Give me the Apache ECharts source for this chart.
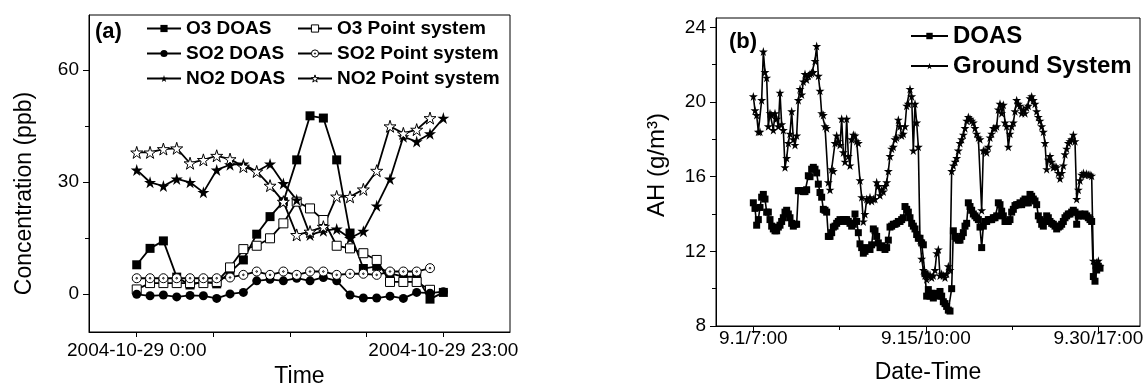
<!DOCTYPE html>
<html>
<head>
<meta charset="utf-8">
<script src="https://cdn.jsdelivr.net/npm/echarts@6/dist/echarts.min.js"></script>
<style>
  html, body { margin: 0; padding: 0; background: #fff; }
  #main { width: 1147px; height: 385px; }
</style>
</head>
<body>
<div id="main"></div>
<script>
// (a) hourly concentrations on 2004-10-29, ppb
const hours = [0, 1, 2, 3, 4, 5, 6, 7, 8, 9, 10, 11, 12, 13, 14, 15, 16, 17, 18, 19, 20, 21, 22, 23];
const o3Doas = [7.8, 12.2, 14.2, 4.5, 2.4, 3.3, 2.7, 5.8, 9.1, 16.0, 20.7, 24.7, 35.9, 47.7, 47.1, 35.9, 16.3, 6.8, 7.4, 5.5, 4.6, 4.6, -1.4, 0.4];
const o3Point = [1.2, 2.9, 2.9, 2.9, 2.9, 2.9, 3.2, 7.1, 12.0, 12.9, 14.9, 18.9, 24.7, 22.9, 19.8, 12.9, 12.2, 10.9, 9.1, 3.2, 3.2, 3.2, 1.1];
const so2Doas = [-0.1, -0.5, -0.3, -0.8, -0.4, -0.5, -1.2, 0.0, 0.4, 3.5, 3.9, 3.5, 4.2, 3.5, 4.4, 3.5, -0.3, -1.1, -1.1, -0.6, -1.2, 0.4, 0.2, 0.6];
const so2Point = [4.2, 4.2, 4.2, 4.2, 4.2, 4.2, 4.2, 4.4, 5.1, 6.0, 5.1, 6.0, 5.1, 6.0, 6.0, 5.1, 5.4, 5.4, 5.1, 6.0, 6.0, 6.0, 6.9];
const no2Doas = [33.2, 29.9, 28.9, 30.8, 29.9, 27.2, 33.2, 34.6, 34.8, 32.8, 34.8, 29.6, 25.2, 15.8, 16.9, 17.4, 14.9, 16.8, 23.6, 30.8, 42.1, 40.8, 42.9, 47.1];
const no2Point = [37.9, 37.9, 38.8, 39.0, 35.0, 35.9, 37.0, 36.1, 34.1, 32.8, 29.0, 24.7, 15.8, 16.7, 18.0, 26.1, 26.0, 28.0, 33.0, 44.9, 43.0, 44.0, 47.1];
const concTicks = [0, 30, 60];
const concMinorTicks = [15, 45];
const hourTicks = [0, 5.75, 11.5, 17.25, 23];
const hourLabelValues = [0, 23];
const hourLabels = ['2004-10-29 0:00', '2004-10-29 23:00'];

// (b) absolute humidity along the record (sample index)
const ahDoas = [
  14.6, 14.3, 13.4, 13.7, 14.35, 14.9, 15.05, 14.8, 14.1, 14.1,
  13.7, 13.35, 13.2, 13.1, 13.1, 13.3, 13.4, 13.6, 13.8, 14.1,
  14.2, 14.0, 13.8, 13.5, 13.35, 13.45, 13.45, 15.25, 15.25, 15.25,
  15.2, 15.2, 15.3, 16.05, 16.0, 16.4, 16.5, 16.4, 16.2, 15.6,
  15.15, 14.9, 14.25, 14.2, 14.1, 12.8, 12.8, 13.0, 13.3, 13.35,
  13.5, 13.6, 13.7, 13.6, 13.7, 13.7, 13.7, 13.6, 13.5, 13.35,
  13.45, 14.0, 13.6, 13.0, 12.4, 12.2, 11.9, 12.0, 12.15, 12.2,
  12.1, 12.35, 13.2, 13.1, 12.8, 12.45, 12.2, 12.3, 12.2, 12.1,
  12.2, 12.6, 13.3, 13.35, 13.45, 13.45, 13.5, 13.6, 13.6, 13.7,
  13.8, 14.4, 14.25, 14.1, 13.8, 13.5, 13.35, 13.2, 12.9, 12.7,
  12.7, 12.45, 12.35, 10.8, 9.6, 9.95, 9.6, 9.75, 9.5, 9.75,
  9.7, 9.6, 9.85, 9.6, 9.3, 9.2, 9.05, 8.85, 8.8, 10.0,
  13.1, 12.8, 12.7, 12.6, 12.6, 12.8, 13.0, 13.35, 13.5, 14.6,
  14.4, 14.2, 14.0, 13.9, 13.8, 13.7, 13.3, 12.2, 13.35, 13.6,
  13.6, 13.7, 13.7, 13.7, 13.8, 13.8, 13.9, 14.6, 14.5, 14.15,
  13.9, 13.6, 13.6, 13.6, 13.7, 14.1, 14.25, 14.45, 14.5, 14.5,
  14.6, 14.5, 14.7, 14.8, 14.6, 14.6, 15.05, 14.95, 14.8, 14.7,
  14.5, 13.9, 13.7, 13.45, 13.35, 13.6, 13.9, 13.8, 13.6, 13.5,
  13.45, 13.35, 13.2, 13.3, 13.35, 13.45, 13.6, 13.8, 13.9, 14.0,
  14.0, 14.1, 14.2, 14.1, 13.45, 13.9, 14.0, 13.9, 13.9, 14.0,
  13.9, 13.8, 13.7, 13.6, 10.65, 10.4, 11.0, 11.2, 11.1
];
const ahGround = [
  20.3, 19.55, 19.3, 18.4, 18.4, 20.1, 22.7, 21.6, 21.3, 18.7,
  19.4, 19.3, 18.5, 19.4, 19.1, 18.7, 20.5, 18.8, 18.5, 16.5,
  17.0, 17.8, 18.3, 19.5, 18.0, 17.7, 18.2, 20.1, 20.7, 20.4,
  21.1, 21.5, 21.2, 21.4, 21.5, 21.55, 21.6, 22.2, 23.0, 21.4,
  20.6, 19.4, 19.3, 18.7, 18.6, 15.7, 15.3, 16.4, 16.3, 17.8,
  18.2, 17.9, 17.7, 19.1, 17.3, 16.8, 19.1, 17.1, 16.6, 18.0,
  18.25, 18.2, 17.9, 17.8, 15.8, 14.9, 13.6, 14.0, 14.8, 14.7,
  14.9, 14.7, 14.8, 14.8, 15.7, 15.5, 15.0, 15.3, 15.2, 15.5,
  15.7, 16.3, 17.1, 17.5, 17.6, 18.0, 18.1, 19.05, 18.7, 18.2,
  18.3, 18.7, 19.8, 19.9, 20.7, 20.3, 17.4, 19.9, 18.9, 17.6,
  12.6, 11.6, 11.0, 10.7, 10.5, 10.7, 10.75, 10.6, 10.7, 11.0,
  11.9, 12.1, 10.7, 10.8, 10.7, 10.6, 10.8, 11.2, 11.0, 16.3,
  16.6, 16.8, 17.0, 17.4, 17.8, 18.0, 18.25, 18.6, 19.0, 19.2,
  19.1, 19.0, 18.9, 18.6, 18.3, 18.1, 18.0, 14.2, 17.4, 17.4,
  17.3, 17.6, 18.1, 18.3, 18.6, 18.6, 18.7, 19.6, 19.9, 19.4,
  19.85, 18.9, 18.7, 17.6, 18.3, 18.7, 18.9, 19.5, 20.1, 19.9,
  19.8, 19.4, 19.6, 19.4, 19.7, 19.8, 20.2, 20.3, 20.1, 19.9,
  19.5, 19.2, 19.0, 18.7, 18.4, 17.8, 16.4, 16.9, 17.1, 16.8,
  16.5, 16.55, 16.5, 16.2, 15.9, 16.2, 16.6, 17.2, 17.5, 17.8,
  17.9, 18.0, 18.25, 17.9, 14.8, 15.3, 15.8, 16.1, 16.2, 16.1,
  16.15, 16.1, 16.1, 16.05, 11.5, 11.3, 11.4, 11.5, 11.2
];
const ahTicks = [8, 12, 16, 20, 24];
const ahMinorTicks = [10, 14, 18, 22];
const sampleTicks = [0, 103.5, 207];
const sampleMinorTicks = [51.75, 155.25];
const sampleLabels = ['9.1/7:00', '9.15/10:00', '9.30/17:00'];

const FONT = "'Liberation Sans', Arial, sans-serif";
const STAR = 'path://M50,0 L61,35 L98,35 L68,57 L79,91 L50,70 L21,91 L32,57 L2,35 L39,35 Z';
const DOT_CIRCLE = 'path://M50,4 A46,46 0 1,1 49.99,4 Z M50,42 A8,8 0 1,1 49.99,42 Z';
const FILLED = { color: '#000', borderWidth: 0 };
const HOLLOW = { color: '#fff', borderColor: '#000', borderWidth: 1 };

const chart = echarts.init(document.getElementById('main'), null, { renderer: 'canvas' });

function hourData(arr) {
  return arr.map((v, i) => [hours[i], v]);
}
function sampleData(arr) {
  return arr.map((v, i) => [i, v]);
}
function lineSeries(name, data, symbol, size, filled, xi, yi, width) {
  return {
    name: name,
    type: 'line',
    xAxisIndex: xi,
    yAxisIndex: yi,
    data: data,
    symbol: symbol,
    symbolSize: size,
    showSymbol: true,
    lineStyle: { color: '#000', width: width },
    itemStyle: filled ? FILLED : HOLLOW,
    emphasis: { disabled: true },
    animation: false
  };
}
function legendItem(name, filled) {
  return { name: name, itemStyle: filled ? FILLED : HOLLOW };
}

const axisText = { color: '#000', fontFamily: FONT, fontSize: 19 };
const nameText = { color: '#000', fontFamily: FONT, fontSize: 23 };
const blackLine = { show: true, onZero: false, lineStyle: { color: '#000', width: 1 } };
const noLine = { show: false, onZero: false };

const option = {
  animation: false,
  backgroundColor: '#fff',
  title: [
    { text: '(a)', left: 95, top: 21, padding: 0, textStyle: { fontFamily: FONT, fontSize: 22, fontWeight: 'bold', color: '#000' } },
    { text: '(b)', left: 729, top: 31, padding: 0, textStyle: { fontFamily: FONT, fontSize: 22, fontWeight: 'bold', color: '#000' } }
  ],
  legend: [
    {
      data: [legendItem('O3 DOAS', true), legendItem('SO2 DOAS', true), legendItem('NO2 DOAS', true)],
      orient: 'vertical', left: 146, top: 19, padding: 0,
      itemWidth: 34, itemHeight: 9, itemGap: 6,
      textStyle: { fontFamily: FONT, fontSize: 19, fontWeight: 'bold', color: '#000' }
    },
    {
      data: [legendItem('O3 Point system', false), legendItem('SO2 Point system', false), legendItem('NO2 Point system', false)],
      orient: 'vertical', left: 297, top: 19, padding: 0,
      itemWidth: 34, itemHeight: 9, itemGap: 6,
      textStyle: { fontFamily: FONT, fontSize: 19, fontWeight: 'bold', color: '#000' }
    },
    {
      data: [legendItem('DOAS', true), legendItem('Ground System', true)],
      orient: 'vertical', left: 910, top: 24, padding: 0,
      itemWidth: 37, itemHeight: 8, itemGap: 6,
      textStyle: { fontFamily: FONT, fontSize: 24, fontWeight: 'bold', color: '#000' }
    }
  ],
  grid: [
    { left: 89, top: 15, width: 421, height: 317, show: true, borderColor: '#000', borderWidth: 1, outerBoundsMode: 'none' },
    { left: 716, top: 18, width: 424, height: 308, show: true, borderColor: '#000', borderWidth: 1, outerBoundsMode: 'none' }
  ],
  xAxis: [
    {
      gridIndex: 0, type: 'value', min: -3.58, max: 28, position: 'bottom',
      axisLine: blackLine,
      axisTick: { show: true, customValues: hourTicks, length: 5, lineStyle: { color: '#000' } },
      axisLabel: { customValues: hourLabelValues, margin: 9, formatter: v => hourLabels[hourLabelValues.indexOf(v)], ...axisText },
      splitLine: { show: false },
      name: 'Time', nameLocation: 'middle', nameGap: 31, nameTextStyle: nameText
    },
    {
      gridIndex: 1, type: 'value', min: -22.4, max: 232, position: 'bottom',
      axisLine: blackLine,
      axisTick: { show: true, customValues: sampleTicks, length: 7, lineStyle: { color: '#000' } },
      axisLabel: { customValues: sampleTicks, margin: 3, formatter: v => sampleLabels[sampleTicks.indexOf(v)], ...axisText },
      splitLine: { show: false },
      name: 'Date-Time', nameLocation: 'middle', nameGap: 35, nameTextStyle: nameText
    },
    {
      gridIndex: 1, type: 'value', min: -22.4, max: 232, position: 'bottom',
      axisLine: noLine,
      axisTick: { show: true, customValues: sampleMinorTicks, length: 4, lineStyle: { color: '#000' } },
      axisLabel: { show: false },
      splitLine: { show: false }
    }
  ],
  yAxis: [
    {
      gridIndex: 0, type: 'value', min: -10.2, max: 74.7, position: 'left',
      axisLine: blackLine,
      axisTick: { show: true, customValues: concTicks, length: 6, lineStyle: { color: '#000' } },
      axisLabel: { customValues: concTicks, margin: 10, ...axisText },
      splitLine: { show: false },
      name: 'Concentration (ppb)', nameLocation: 'middle', nameGap: 53,
      nameTextStyle: { ...nameText, padding: [0, 40, 0, 0] }
    },
    {
      gridIndex: 0, type: 'value', min: -10.2, max: 74.7, position: 'left',
      axisLine: noLine,
      axisTick: { show: true, customValues: concMinorTicks, length: 4, lineStyle: { color: '#000' } },
      axisLabel: { show: false },
      splitLine: { show: false }
    },
    {
      gridIndex: 1, type: 'value', min: 8, max: 24.5, position: 'left',
      axisLine: blackLine,
      axisTick: { show: true, customValues: ahTicks, length: 6, lineStyle: { color: '#000' } },
      axisLabel: { customValues: ahTicks, margin: 10, ...axisText },
      splitLine: { show: false },
      name: 'AH (g/m³)', nameLocation: 'middle', nameGap: 47,
      nameTextStyle: { ...nameText, fontSize: 24, padding: [0, 0, 0, 14] }
    },
    {
      gridIndex: 1, type: 'value', min: 8, max: 24.5, position: 'left',
      axisLine: noLine,
      axisTick: { show: true, customValues: ahMinorTicks, length: 4, lineStyle: { color: '#000' } },
      axisLabel: { show: false },
      splitLine: { show: false }
    }
  ],
  series: [
    lineSeries('O3 DOAS', hourData(o3Doas), 'rect', 9, true, 0, 0, 1.8),
    lineSeries('O3 Point system', hourData(o3Point), 'rect', 9, false, 0, 0, 1.8),
    lineSeries('SO2 DOAS', hourData(so2Doas), 'circle', 9, true, 0, 0, 1.8),
    lineSeries('SO2 Point system', hourData(so2Point), DOT_CIRCLE, 9, false, 0, 0, 1.8),
    lineSeries('NO2 DOAS', hourData(no2Doas), STAR, 12, true, 0, 0, 1.8),
    lineSeries('NO2 Point system', hourData(no2Point), STAR, 12, false, 0, 0, 1.8),
    lineSeries('DOAS', sampleData(ahDoas), 'rect', 7, true, 1, 2, 1.6),
    lineSeries('Ground System', sampleData(ahGround), STAR, 9, true, 1, 2, 1.6)
  ]
};

chart.setOption(option);
</script>
</body>
</html>
